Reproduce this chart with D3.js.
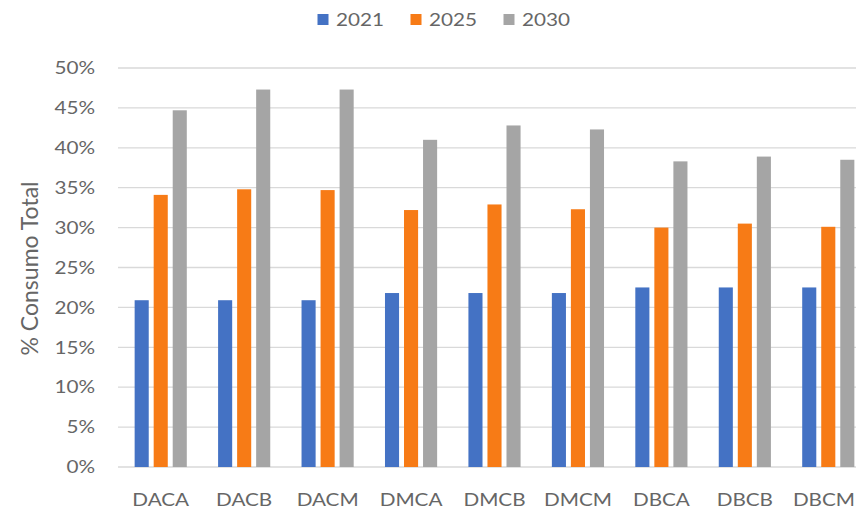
<!DOCTYPE html>
<html><head><meta charset="utf-8">
<script src="https://cdn.jsdelivr.net/npm/d3@7"></script>
<style>html,body{margin:0;padding:0;background:#fff;overflow:hidden}</style>
</head><body>
<svg id="chart" width="856" height="513"></svg>
<script>
const categories = ["DACA","DACB","DACM","DMCA","DMCB","DMCM","DBCA","DBCB","DBCM"];
const seriesNames = ["2021","2025","2030"];
const values2021 = [20.9,20.9,20.9,21.8,21.8,21.8,22.5,22.5,22.5];
const values2025 = [34.1,34.8,34.7,32.2,32.9,32.3,30.0,30.5,30.1];
const values2030 = [44.7,47.3,47.3,41.0,42.8,42.3,38.3,38.9,38.5];
const yTicks = [0,5,10,15,20,25,30,35,40,45,50];
const colors = ["#4472C4","#F77B16","#A5A5A5"];

(function () {
const series = [values2021, values2025, values2030];
const svg = d3.select("#chart");
const font = "Lato, 'Open Sans', sans-serif";
const textColor = "#666666";
const sx = 1.15;
const stretch = `scale(${sx},1)`;
const W = 856;
const mLeft = 119, mRight = 870, mTop = 68, mBottom = 467;

const x = d3.scaleBand().domain(categories).range([mLeft, mRight]).paddingInner(0.375).paddingOuter(0.1875);
const xi = d3.scaleBand().domain(seriesNames).range([0, x.bandwidth()]).paddingInner(0.26);
const y = d3.scaleLinear().domain([0, 50]).range([mBottom, mTop]);

// gridlines
svg.append("g").selectAll("line").data(yTicks).join("line")
  .attr("x1", mLeft - 1).attr("x2", W)
  .attr("y1", d => y(d)).attr("y2", d => y(d))
  .attr("stroke", "#D9D9D9").attr("stroke-width", 1.3);

// y axis labels
const yAxis = d3.axisLeft(y).tickValues(yTicks).tickFormat(d => d + "%").tickSize(0).tickPadding(0);
const ya = svg.append("g").attr("transform", "translate(95,0)").call(yAxis);
ya.select(".domain").remove();
ya.selectAll("text").attr("font-family", font).attr("font-size", 18).attr("fill", textColor)
  .attr("transform", stretch);

// x axis labels
const xAxis = d3.axisBottom(x).tickSize(0).tickPadding(0);
const xa = svg.append("g").attr("transform", `translate(0,${mBottom + 26})`).call(xAxis);
xa.select(".domain").remove();
xa.selectAll("text").attr("font-family", font).attr("font-size", 18).attr("fill", textColor)
  .attr("transform", stretch);
// keep labels inside the picture's right edge
xa.selectAll(".tick").each(function (d) {
  const t = d3.select(this).select("text");
  const half = t.node().getBBox().width * sx / 2;
  const overflow = x(d) + x.bandwidth() / 2 + half - (W - 1);
  if (overflow > 0) t.attr("transform", `translate(${-overflow},0) ` + stretch);
});

// bars
const groups = svg.append("g").selectAll("g").data(categories).join("g")
  .attr("transform", d => `translate(${x(d)},0)`);
groups.selectAll("rect").data((c, i) => seriesNames.map((s, k) => ({s, k, v: series[k][i]}))).join("rect")
  .attr("x", d => xi(d.s)).attr("width", xi.bandwidth())
  .attr("y", d => y(d.v)).attr("height", d => y(0) - y(d.v))
  .attr("fill", d => colors[d.k]);

// y title
svg.append("text").attr("transform", "translate(38,268.5) rotate(-90)")
  .attr("text-anchor", "middle").attr("font-family", font).attr("font-size", 23)
  .attr("fill", textColor).text("% Consumo Total");

// legend
const legendX = [323, 416, 509];
const lg = svg.append("g").selectAll("g").data(seriesNames).join("g")
  .attr("transform", (d, i) => `translate(${legendX[i]},19.5)`);
lg.append("rect").attr("x", -5.5).attr("y", -5.5).attr("width", 11).attr("height", 11).attr("fill", (d, i) => colors[i]);
lg.append("text").attr("transform", "translate(13,6.5) " + stretch)
  .attr("font-family", font).attr("font-size", 18)
  .attr("fill", textColor).text(d => d);
})();
</script>
</body></html>
